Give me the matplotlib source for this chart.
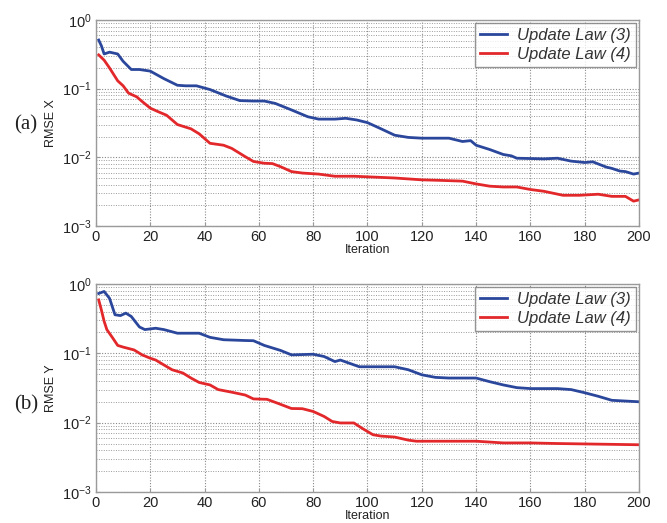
import matplotlib
matplotlib.use("Agg")
import matplotlib.pyplot as plt
from matplotlib.ticker import LogLocator, FixedLocator, NullFormatter

# ---- data ----
x_blue_x = [1, 2, 3, 5, 8, 10, 13, 16, 20, 25, 30, 33, 37, 42, 48, 53, 58, 62, 66, 72, 78, 82, 88, 92, 96, 100, 105, 110, 115, 120, 125, 130, 135, 138, 140, 145, 150, 153, 155, 160, 165, 170, 175, 180, 183, 185, 188, 190, 193, 195, 198, 200]
y_blue_x = [0.51, 0.42, 0.32, 0.34, 0.32, 0.25, 0.19, 0.19, 0.18, 0.14, 0.112, 0.11, 0.11, 0.097, 0.078, 0.067, 0.066, 0.066, 0.061, 0.049, 0.039, 0.036, 0.036, 0.037, 0.035, 0.032, 0.026, 0.021, 0.0195, 0.019, 0.019, 0.019, 0.017, 0.0175, 0.015, 0.013, 0.011, 0.0105, 0.0097, 0.0096, 0.0095, 0.0097, 0.0088, 0.0084, 0.0086, 0.008, 0.0072, 0.0069, 0.0063, 0.0062, 0.0057, 0.0059]

x_red_x = [1, 3, 5, 8, 10, 12, 15, 17, 20, 23, 26, 30, 35, 38, 42, 47, 50, 55, 58, 62, 65, 68, 72, 76, 82, 88, 95, 100, 110, 120, 128, 135, 140, 145, 150, 155, 160, 165, 172, 178, 185, 190, 195, 198, 200]
y_red_x = [0.31, 0.26, 0.2, 0.13, 0.11, 0.086, 0.076, 0.065, 0.052, 0.046, 0.041, 0.03, 0.026, 0.022, 0.016, 0.015, 0.0135, 0.0102, 0.0087, 0.0082, 0.0081, 0.0073, 0.0062, 0.0059, 0.0057, 0.0053, 0.0053, 0.0052, 0.005, 0.0047, 0.0046, 0.0045, 0.0041, 0.0038, 0.0037, 0.0037, 0.0034, 0.0032, 0.0028, 0.0028, 0.0029, 0.0027, 0.0027, 0.0023, 0.0024]

x_blue_y = [1, 3, 5, 7, 9, 11, 13, 16, 18, 22, 25, 30, 38, 42, 47, 55, 58, 62, 68, 72, 80, 84, 88, 90, 97, 110, 115, 120, 125, 130, 140, 145, 150, 155, 160, 170, 175, 180, 185, 190, 195, 200]
y_blue_y = [0.73, 0.78, 0.62, 0.36, 0.35, 0.38, 0.34, 0.24, 0.22, 0.23, 0.22, 0.195, 0.195, 0.17, 0.157, 0.153, 0.152, 0.13, 0.11, 0.095, 0.097, 0.09, 0.076, 0.08, 0.064, 0.064, 0.058, 0.049, 0.045, 0.044, 0.044, 0.039, 0.035, 0.032, 0.031, 0.031, 0.03, 0.027, 0.024, 0.021, 0.0205, 0.02]

x_red_y = [1, 2, 3, 4, 6, 8, 10, 14, 17, 20, 22, 25, 28, 32, 35, 38, 42, 45, 50, 55, 58, 63, 67, 72, 76, 80, 84, 87, 90, 95, 98, 102, 105, 110, 115, 118, 125, 140, 150, 160, 170, 200]
y_red_y = [0.59, 0.42, 0.29, 0.22, 0.17, 0.13, 0.123, 0.112, 0.095, 0.085, 0.08, 0.068, 0.058, 0.052, 0.044, 0.038, 0.035, 0.03, 0.0275, 0.025, 0.022, 0.0217, 0.019, 0.016, 0.0159, 0.0145, 0.0123, 0.0104, 0.0099, 0.0099, 0.0083, 0.0067, 0.0064, 0.0062, 0.0056, 0.0054, 0.0054, 0.0054, 0.0051, 0.0051, 0.005, 0.0048]

labels = ["Update Law (3)", "Update Law (4)"]
ylabels = ["RMSE X", "RMSE Y"]
panel_tags = ["(a)", "(b)"]
xticks = [0, 20, 40, 60, 80, 100, 120, 140, 160, 180, 200]

BLUE = "#2b479c"
RED = "#e3282b"

plt.rcParams['font.family'] = ['Liberation Sans', 'DejaVu Sans']

fig = plt.figure(figsize=(6.67, 5.23), dpi=100)
axes_rects = [
    [0.1439, 0.5679, 0.8141, 0.3939],
    [0.1439, 0.0593, 0.8141, 0.3977],
]
series = [
    ((x_blue_x, y_blue_x), (x_red_x, y_red_x)),
    ((x_blue_y, y_blue_y), (x_red_y, y_red_y)),
]
tag_y = [125, 405]

for i, rect in enumerate(axes_rects):
    ax = fig.add_axes(rect)
    (bx, by), (rx, ry) = series[i]
    ax.plot(bx, by, color=BLUE, lw=2.0, label=labels[0])
    ax.plot(rx, ry, color=RED, lw=2.0, label=labels[1])
    ax.set_yscale('log')
    ax.set_xlim(0, 200)
    ax.set_ylim(1e-3, 1)
    ax.xaxis.set_major_locator(FixedLocator(xticks))
    ax.yaxis.set_major_locator(LogLocator(base=10, numticks=10))
    ax.yaxis.set_minor_locator(LogLocator(base=10, subs=range(2, 10), numticks=20))
    ax.yaxis.set_minor_formatter(NullFormatter())
    ax.grid(True, which='major', axis='both', linestyle=(0, (1, 1.5)), color='#8a8a8a', lw=0.8)
    ax.grid(True, which='minor', axis='y', linestyle=(0, (1, 1.5)), color='#9a9a9a', lw=0.7)
    for s in ax.spines.values():
        s.set_color('#9a9a9a')
        s.set_linewidth(1.0)
    ax.tick_params(which='both', direction='in', length=0, labelsize=10.5, colors='#222222', pad=3)
    ax.tick_params(which='major', length=3, color='#9a9a9a')
    ax.set_ylabel(ylabels[i], fontsize=9, color='#222222', labelpad=4)
    ax.set_xlabel("Iteration", fontsize=9, color='#222222', labelpad=0)
    leg = ax.legend(loc='upper right', prop={'style': 'italic', 'size': 12},
                    frameon=True, fancybox=False, borderpad=0.3, labelspacing=0.2,
                    handlelength=1.6, handletextpad=0.6, borderaxespad=0.2)
    leg.get_frame().set_edgecolor('#7a7a7a')
    leg.get_frame().set_linewidth(1.0)
    for t in leg.get_texts():
        t.set_color('#333333')
    fig.text(26 / 667, 1 - tag_y[i] / 523, panel_tags[i], fontsize=15,
             family=['Liberation Serif', 'DejaVu Serif'], ha='center', va='center', color='#222222')

fig.savefig("out.png", dpi=100)
